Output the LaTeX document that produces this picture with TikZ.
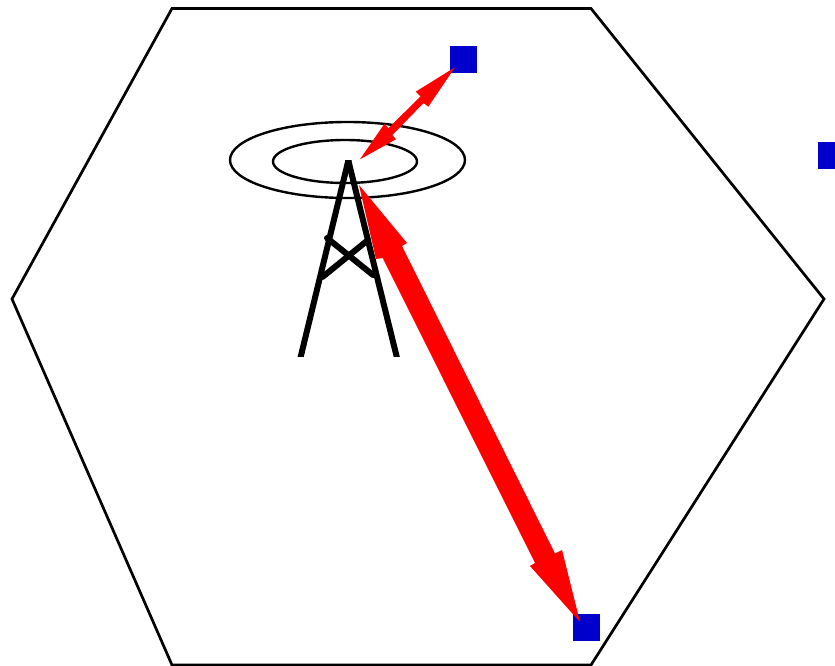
\documentclass[tikz,border=0pt]{standalone}
\definecolor{sqblue}{RGB}{0,0,204}
\tikzset{
  cellline/.style={draw=black,line width=2.7pt,line join=miter},
  ringline/.style={draw=black,line width=2.4pt},
  towerline/.style={draw=black,line width=6pt},
  crossline/.style={draw=black,line width=6pt,line cap=round},
  terminal/.style={fill=sqblue,draw=none,inner sep=0pt,minimum size=27pt,rectangle},
  linkarrow/.style={fill=red,draw=none}
}
\begin{document}
\begin{tikzpicture}[x=1pt,y=-1pt]
\useasboundingbox (0,0) rectangle (835,666);
% cell
\draw[cellline] (172,8.5) -- (591,8.5) -- (824,299) -- (591,665) -- (172,665) -- (12,299) -- cycle;
% rings
\draw[ringline] (347.5,160) ellipse [x radius=117.5,y radius=38];
\draw[ringline] (345,161.5) ellipse [x radius=72,y radius=21.5];
% tower
\begin{scope}
\clip (280,160.5) rectangle (420,356.5);
\draw[towerline] (352.2,144.7) -- (300.7,356.7) -- (296.7,373);
\draw[towerline] (344.4,144.7) -- (396.7,356.7) -- (400.7,373);
\end{scope}
\draw[crossline] (327,238) -- (373,275);
\draw[crossline] (368,240) -- (322.5,277);
% terminals
\node[terminal] (t1) at (463.5,59.5) {};
\node[terminal] (t2) at (586.5,627.5) {};
\node[terminal] (t3) at (831.5,155.5) {};
% links
\fill[linkarrow] (455,67.3) -- (428.3,106.7) -- (423.5,103) -- (392.5,135) -- (396,139.3) -- (360,159.3) -- (384.3,124) -- (388.5,128) -- (420.5,96.5) -- (415.7,91.7) -- cycle;
\fill[linkarrow] (359,185) -- (407,243) -- (402,246) -- (555,553.5) -- (562,550) -- (580,622) -- (530,566) -- (535,563) -- (382.7,258) -- (376,259) -- cycle;
\end{tikzpicture}
\end{document}
